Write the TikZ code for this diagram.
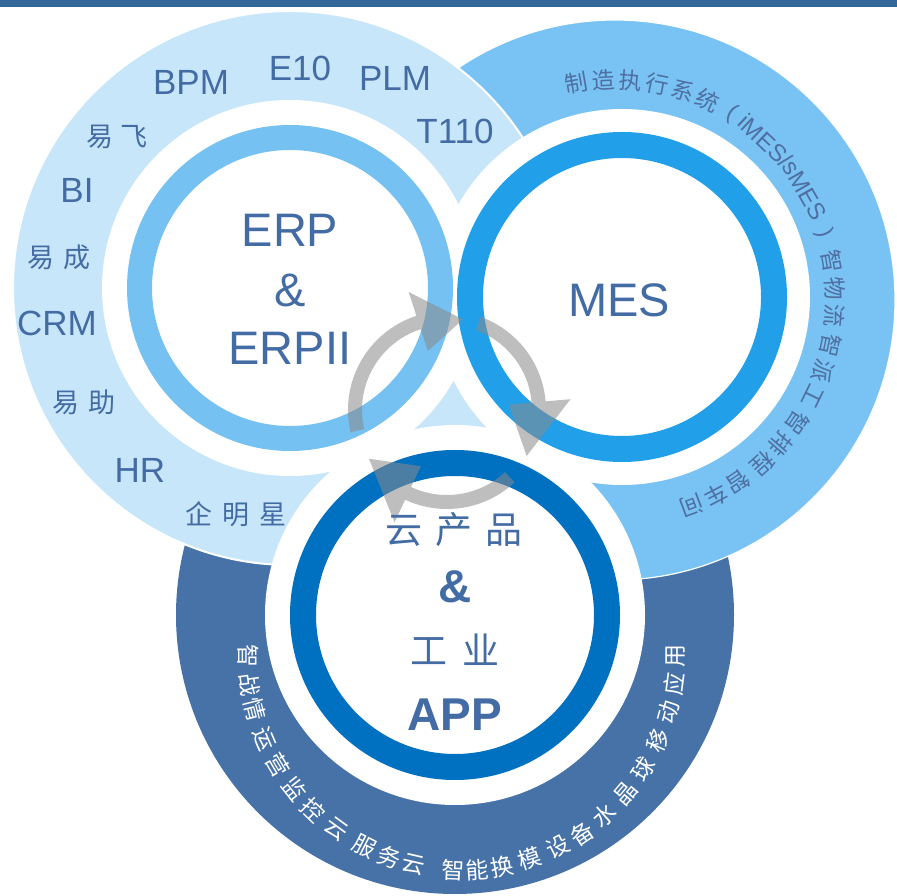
\documentclass[tikz,border=0pt]{standalone}
\usepackage{fontspec}
\setmainfont{Liberation Sans}
\newfontfamily\cjk{Noto Sans CJK SC}
\definecolor{barblue}{HTML}{336699}
\definecolor{erplight}{HTML}{C8E6F9}
\definecolor{erpring}{HTML}{75C1F1}
\definecolor{mesouter}{HTML}{78C3F3}
\definecolor{mesring}{HTML}{219FE9}
\definecolor{appouter}{HTML}{4672A8}
\definecolor{appring}{HTML}{0070C0}
\definecolor{txt}{HTML}{446CA4}
\definecolor{mestext}{HTML}{4F6FA2}
\definecolor{arrowgray}{RGB}{138,138,138}
\begin{document}
\begin{tikzpicture}[x=1pt,y=1pt,
  lbl/.style={text=txt, font=\fontsize{35}{35}\selectfont, inner sep=0pt},
  lblc/.style={text=txt, font=\cjk\fontsize{27}{27}\selectfont, inner sep=0pt},
  big/.style={text=txt, font=\fontsize{47}{47}\selectfont, inner sep=0pt, anchor=base},
  bigc/.style={text=txt, font=\cjk\fontsize{37}{37}\selectfont, inner sep=0pt},
  bigb/.style={text=txt, font=\bfseries\fontsize{46}{46}\selectfont, inner sep=0pt, anchor=base},
  mestxt/.style={text=mestext, font=\cjk\fontsize{23}{23}\selectfont, inner sep=0pt},
  mespar/.style={text=mestext, font=\fontsize{23}{23}\selectfont, inner sep=0pt},
  meslat/.style={text=mestext, font=\fontsize{24}{24}\selectfont, inner sep=0pt},
  apptxt/.style={text=white, font=\cjk\fontsize{23}{23}\selectfont, inner sep=0pt},
  ringline/.style={line width=26pt},
  cyc/.style={fill=arrowgray, fill opacity=0.55}
]
\useasboundingbox (0,0) rectangle (897,895);
\fill[white] (0,0) rectangle (897,895);
\fill[barblue] (0,888) rectangle (897,895);

% centres
\coordinate (erpc) at (290,607);
\coordinate (mesc) at (622,598);
\coordinate (mesoc) at (615,595);
\coordinate (appc) at (455,280);

% outer discs
\fill[appouter] (appc) circle[radius=279];
\filldraw[fill=mesouter, draw=white, line width=1.2pt] (mesoc) circle[radius=280];
\filldraw[fill=erplight, draw=white, line width=2pt] (erpc) circle[radius=277];

% white discs
\fill[white] (erpc) circle[radius=188];
\fill[white] (mesc) circle[radius=188];
\fill[white] (appc) circle[radius=190];

% rings
\draw[erpring, line width=25pt] (erpc) circle[radius=150.5];
\draw[mesring, ringline] (mesc) circle[radius=152];
\draw[appring, ringline] (appc) circle[radius=152];

% cycle arrows
\begin{scope}[shift={(447,485)}]
\foreach \s/\b/\t in {193/108/80, 70/5/-30, -47/-115/-148}
  \fill[cyc] (\s:99) arc[start angle=\s, end angle=\b, radius=99]
     -- (\b:124) -- (\t:92) -- (\b:62) -- (\b:85)
     arc[start angle=\b, end angle=\s, radius=85] -- cycle;
\end{scope}

% ERP band labels
\node[lbl] (bpm) at (191,813) {BPM};
\node[lbl] (e10) at (300,827) {E10};
\node[lbl] (plm) at (395,817) {PLM};
\node[lbl] (t110) at (455,764) {T110};
\node[lblc] (yifei) at (117,758) {易\hspace{8pt}飞};
\node[lbl] (bi) at (77,705) {BI};
\node[lblc] (yicheng) at (59,638) {易\hspace{9pt}成};
\node[lbl] (crm) at (57,572) {CRM};
\node[lblc] (yizhu) at (84,493) {易\hspace{9pt}助};
\node[lbl] (hr) at (140,425) {HR};
\node[lblc] (qmx) at (236,381) {企\hspace{10pt}明\hspace{10pt}星};

% centre texts
\node[big] (erp1) at (290,648) {ERP};
\node[big] (erp2) at (290,588) {\&};
\node[big] (erp3) at (290,530) {ERPII};
\node[big] (mes) at (619,578) {MES};
\node[bigc] (app1) at (454,365) {云\hspace{13pt}产\hspace{13pt}品};
\node[bigb] (app2) at (455,292) {\&};
\node[bigc] (app3) at (455,245) {工\hspace{16pt}业};
\node[bigb] (app4) at (455,165) {APP};

% MES band text
\begin{scope}[shift={(615,595)}]
\foreach \a/\c [count=\i] in {100/制, 93/造, 86/执, 79/行, 72/系, 65/统,
   10/智, 3/物, -4/流, -12/智, -19/派, -26/工, -34/智, -41/排, -48/程,
   -56/智, -62.5/车, -69.5/间}
  \node[mestxt, rotate=\a-90] (m\i) at (\a:220) {\c};
\node[mespar, rotate=-32] (mlp) at (58:220) {(};
\node[meslat, rotate=-43.3] (mlat1) at (46.7:219) {iMES/};
\node[meslat, rotate=-60] (mlat2) at (30:219) {sMES};
\node[mespar, rotate=-72.5] (mrp) at (17.5:220) {)};
\end{scope}

% APP band text
\begin{scope}[shift={(462,239)}]
\foreach \a/\c [count=\i] in {180/智, 187.6/战, 194.4/情, 202.9/运, 210.5/营,
   218.5/监, 226/控, 234/云, 243/服, 250/务, 257/云, 267.6/智, 274/能,
   280.7/换, 288.4/模, 296.7/设, 304/备, 311.8/水, 319.9/晶, 328/球,
   336.6/移, 344.7/动, 352.5/应, 360/用}
  \node[apptxt, rotate=\a+90] (d\i) at (\a:214) {\c};
\end{scope}
\end{tikzpicture}
\end{document}
